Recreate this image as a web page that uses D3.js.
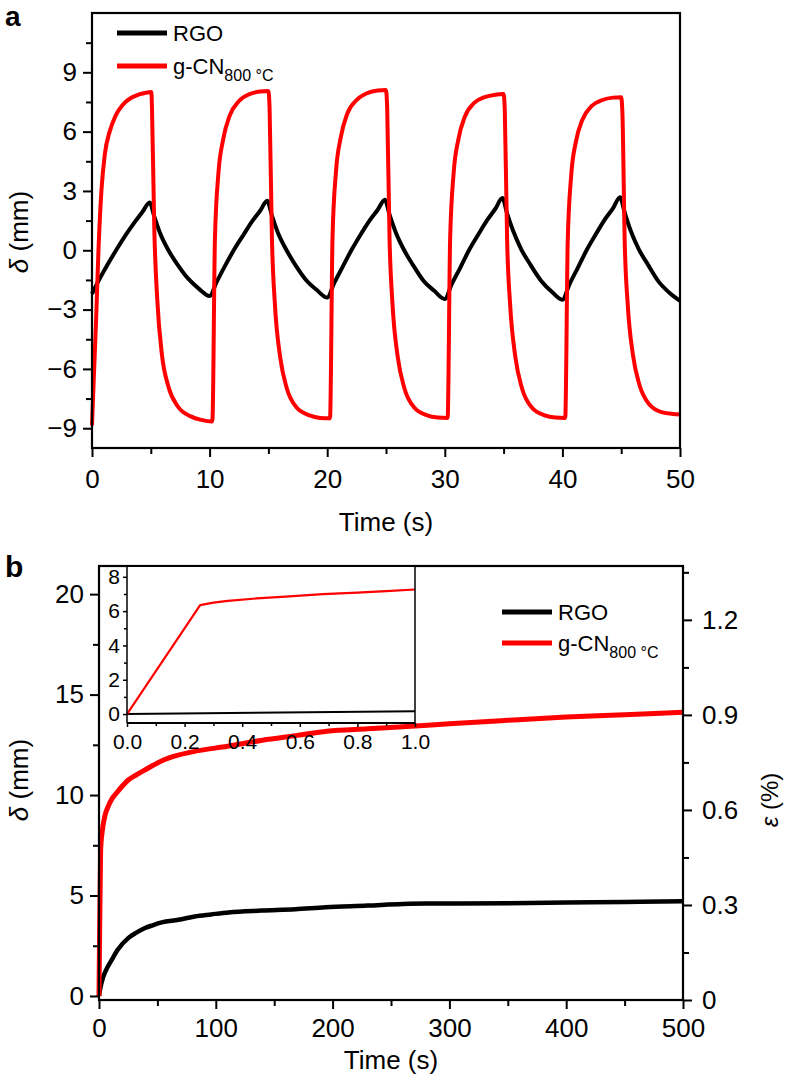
<!DOCTYPE html>
<html><head><meta charset="utf-8">
<script src="https://cdn.jsdelivr.net/npm/d3@7"></script>
<style>
body{margin:0;background:#fff;}
svg{display:block;font-family:"Liberation Sans",Arial,Helvetica,sans-serif;}
</style></head><body>
<svg id="c" width="786" height="1083"></svg>
<script>
// ---------- data ----------
// Panel a: cyclic deflection (Time s, δ mm)
const seriesNames = ["RGO", "g-CN"];
const rgoCyclic = [
 [0,-2.2],[0.6,-1.5],[1.3,-0.75],[2.1,0.05],[2.9,0.8],[3.6,1.4],[4.3,1.95],[4.9,2.42],
 [5.3,1.7],[5.8,0.85],[6.5,0.0],[7.3,-0.75],[8.2,-1.45],[9.1,-1.95],[10.0,-2.31],
 [10.6,-1.6],[11.3,-0.8],[12.1,0.05],[12.9,0.8],[13.6,1.45],[14.3,2.0],[14.9,2.5],
 [15.3,1.75],[15.8,0.9],[16.5,0.05],[17.3,-0.75],[18.2,-1.5],[19.1,-2.0],[20.0,-2.39],
 [20.6,-1.65],[21.3,-0.85],[22.1,0.05],[22.9,0.85],[23.6,1.5],[24.3,2.05],[24.9,2.56],
 [25.3,1.8],[25.8,0.95],[26.5,0.05],[27.3,-0.75],[28.2,-1.55],[29.1,-2.05],[30.0,-2.46],
 [30.6,-1.7],[31.3,-0.9],[32.1,0.05],[32.9,0.85],[33.6,1.52],[34.3,2.1],[34.9,2.64],
 [35.3,1.85],[35.8,1.0],[36.5,0.05],[37.3,-0.75],[38.2,-1.55],[39.1,-2.1],[40.0,-2.5],
 [40.6,-1.72],[41.3,-0.9],[42.1,0.05],[42.9,0.87],[43.6,1.55],[44.3,2.12],[44.9,2.68],
 [45.3,1.9],[45.8,1.0],[46.5,0.05],[47.3,-0.75],[48.2,-1.6],[49.1,-2.15],[50.0,-2.56]
];
const gcnCyclic = [
 [0,-8.86],[0.15,-6.5],[0.35,-3.5],[0.55,0.0],[0.8,3.0],[1.1,4.9],[1.5,6.0],[2.0,6.8],[2.6,7.35],[3.3,7.7],[4.0,7.88],[4.6,7.97],[5.05,8.0],
 [5.1,7.2],[5.3,1.0],[5.55,-2.5],[5.95,-5.3],[6.5,-6.9],[7.3,-7.9],[8.4,-8.4],[9.3,-8.58],[10.2,-8.66],
 [10.25,-8.5],[10.45,0.5],[10.75,3.9],[11.15,5.6],[11.7,6.8],[12.5,7.55],[13.4,7.9],[14.3,8.03],[15.0,8.06],
 [15.1,7.2],[15.3,0.6],[15.55,-2.7],[16.0,-5.4],[16.55,-6.95],[17.4,-7.95],[18.5,-8.35],[19.4,-8.48],[20.2,-8.5],
 [20.25,-8.4],[20.45,0.6],[20.75,4.0],[21.15,5.7],[21.7,6.9],[22.5,7.6],[23.4,7.95],[24.3,8.08],[25.0,8.1],
 [25.1,7.2],[25.3,0.6],[25.55,-2.7],[26.0,-5.4],[26.55,-6.95],[27.4,-7.95],[28.5,-8.35],[29.4,-8.46],[30.2,-8.48],
 [30.25,-8.4],[30.45,0.5],[30.75,3.9],[31.15,5.6],[31.7,6.75],[32.5,7.45],[33.4,7.75],[34.3,7.87],[35.0,7.9],
 [35.1,7.1],[35.3,0.5],[35.55,-2.7],[36.0,-5.4],[36.55,-6.95],[37.4,-7.95],[38.5,-8.35],[39.4,-8.46],[40.2,-8.48],
 [40.25,-8.4],[40.45,0.4],[40.75,3.8],[41.15,5.5],[41.7,6.6],[42.5,7.3],[43.4,7.6],[44.3,7.72],[45.0,7.74],
 [45.1,7.0],[45.3,0.4],[45.55,-2.7],[46.0,-5.3],[46.55,-6.8],[47.4,-7.8],[48.5,-8.2],[49.4,-8.28],[50.0,-8.3]
];
const aXTicks = [0,10,20,30,40,50];
const aXMinor = [5,15,25,35,45];
const aYTicks = [-9,-6,-3,0,3,6,9];
const aYMinor = [-7.5,-4.5,-1.5,1.5,4.5,7.5,10.5];

// Panel b: creep (Time s, δ mm)
const rgoCreep = [
 [0,0],[1,0.35],[3.7,0.96],[7,1.4],[10.9,1.8],[16,2.3],[25,2.88],[32,3.15],[39.4,3.38],[46,3.52],[53.7,3.66],
 [68,3.79],[82,3.96],[96,4.06],[111,4.16],[139,4.25],[168,4.32],[194,4.42],[230,4.5],[260,4.58],[280,4.6],
 [300,4.6],[350,4.62],[400,4.65],[450,4.68],[500,4.72]
];
const gcnCreep = [
 [0,0],[0.5,3.0],[1,5.5],[1.5,7.4],[3,8.3],[5,8.95],[8,9.45],[11,9.8],[15,10.1],[20,10.45],[25,10.75],
 [32,11.0],[40,11.27],[50,11.6],[60,11.85],[80,12.15],[110,12.43],[140,12.73],[170,12.97],[195,13.18],
 [230,13.3],[260,13.4],[300,13.55],[350,13.72],[400,13.88],[450,14.0],[500,14.12]
];
const bXTicks = [0,100,200,300,400,500];
const bXMinor = [50,150,250,350,450];
const bYTicks = [0,5,10,15,20];
const bYMinor = [2.5,7.5,12.5,17.5];
const bRTicks = [0,0.3,0.6,0.9,1.2];
const bRMinor = [0.15,0.45,0.75,1.05,1.35];

// Inset: first second of creep
const rgoInset = [[0,0],[1.0,0.17]];
const gcnInset = [[0,0],[0.254,6.35],[0.3,6.5],[0.35,6.6],[0.45,6.74],[0.55,6.85],[0.68,6.99],[0.8,7.08],[0.9,7.17],[1.0,7.26]];
const inXTicks = [0,0.2,0.4,0.6,0.8,1.0];
const inXMinor = [0.1,0.3,0.5,0.7,0.9];
const inYTicks = [0,2,4,6,8];
const inYMinor = [1,3,5,7];

// ---------- drawing ----------
const svg = d3.select("#c");
const RED = "#ff0000";
const FS = 26;
const fmtMinus = d => (d < 0 ? "\u2212" + Math.abs(d) : String(d));

function styleAxis(g, fs) {
  g.select(".domain").remove();
  g.selectAll(".tick line").attr("stroke", "#000").attr("stroke-width", 2);
  g.selectAll("text").attr("font-size", fs).attr("fill", "#000");
}

function legend(x, y, gap) {
  const lg = svg.append("g");
  [["#000", "RGO"], [RED, "g-CN"]].forEach((d, i) => {
    const yy = y + i * gap;
    lg.append("line").attr("x1", x).attr("x2", x + 50).attr("y1", yy).attr("y2", yy)
      .attr("stroke", d[0]).attr("stroke-width", 5);
    const t = lg.append("text").attr("x", x + 56).attr("y", yy + 8).attr("font-size", 22);
    t.append("tspan").text(d[1]);
    if (i === 1) t.append("tspan").attr("font-size", 16).attr("dy", 7).text("800 \u00B0C");
  });
}

// ===== Panel a =====
const ax = d3.scaleLinear().domain([0, 50]).range([92, 680]);
const ay = d3.scaleLinear().domain([-10, 12]).range([448, 13]);

svg.append("text").attr("x", 5).attr("y", 26).attr("font-size", 28).attr("font-weight", "bold").text("a");

const lineA = d3.line().x(d => ax(d[0])).y(d => ay(d[1])).curve(d3.curveMonotoneX);
svg.append("path").datum(rgoCyclic).attr("fill", "none").attr("stroke", "#000").attr("stroke-width", 4)
  .attr("stroke-linejoin", "round").attr("d", lineA);
svg.append("path").datum(gcnCyclic).attr("fill", "none").attr("stroke", RED).attr("stroke-width", 4)
  .attr("stroke-linejoin", "round").attr("d", lineA);

svg.append("rect").attr("x", 92).attr("y", 13).attr("width", 588).attr("height", 435)
  .attr("fill", "none").attr("stroke", "#000").attr("stroke-width", 2.2);

let g = svg.append("g").attr("transform", "translate(0,448)")
  .call(d3.axisBottom(ax).tickValues(aXTicks).tickSize(9).tickPadding(13).tickFormat(d3.format("d")));
styleAxis(g, FS);
g = svg.append("g").attr("transform", "translate(0,448)")
  .call(d3.axisBottom(ax).tickValues(aXMinor).tickSize(6).tickFormat(""));
styleAxis(g, FS);
g = svg.append("g").attr("transform", "translate(92,0)")
  .call(d3.axisLeft(ay).tickValues(aYTicks).tickSize(9).tickPadding(6).tickFormat(fmtMinus));
styleAxis(g, FS);
g = svg.append("g").attr("transform", "translate(92,0)")
  .call(d3.axisLeft(ay).tickValues(aYMinor).tickSize(6).tickFormat(""));
styleAxis(g, FS);

svg.append("text").attr("x", (ax(0) + ax(50)) / 2).attr("y", 531).attr("text-anchor", "middle")
  .attr("font-size", FS).text("Time (s)");
const aYL = svg.append("text").attr("transform", "translate(28,232) rotate(-90)")
  .attr("text-anchor", "middle").attr("font-size", FS);
aYL.append("tspan").attr("font-style", "italic").text("\u03B4");
aYL.append("tspan").text(" (mm)");

legend(117, 33, 33);

// ===== Panel b =====
const bx = d3.scaleLinear().domain([0, 500]).range([99, 683]);
const by = d3.scaleLinear().domain([-0.2, 21.4]).range([1000, 566]);
const br = d3.scaleLinear().domain([0, 1.37]).range([1000, 566]);

svg.append("text").attr("x", 5).attr("y", 577).attr("font-size", 30).attr("font-weight", "bold").text("b");

const lineB = d3.line().x(d => bx(d[0])).y(d => by(d[1])).curve(d3.curveMonotoneX);
svg.append("path").datum(rgoCreep).attr("fill", "none").attr("stroke", "#000").attr("stroke-width", 4.5)
  .attr("stroke-linejoin", "round").attr("d", lineB);
svg.append("path").datum(gcnCreep).attr("fill", "none").attr("stroke", RED).attr("stroke-width", 5)
  .attr("stroke-linejoin", "round").attr("d", lineB);

svg.append("rect").attr("x", 99).attr("y", 566).attr("width", 584).attr("height", 434)
  .attr("fill", "none").attr("stroke", "#000").attr("stroke-width", 2.2);

g = svg.append("g").attr("transform", "translate(0,1000)")
  .call(d3.axisBottom(bx).tickValues(bXTicks).tickSize(9).tickPadding(10).tickFormat(d3.format("d")));
styleAxis(g, FS);
g = svg.append("g").attr("transform", "translate(0,1000)")
  .call(d3.axisBottom(bx).tickValues(bXMinor).tickSize(6).tickFormat(""));
styleAxis(g, FS);
g = svg.append("g").attr("transform", "translate(99,0)")
  .call(d3.axisLeft(by).tickValues(bYTicks).tickSize(9).tickPadding(6).tickFormat(d3.format("d")));
styleAxis(g, FS);
g = svg.append("g").attr("transform", "translate(99,0)")
  .call(d3.axisLeft(by).tickValues(bYMinor).tickSize(6).tickFormat(""));
styleAxis(g, FS);
g = svg.append("g").attr("transform", "translate(683,0)")
  .call(d3.axisRight(br).tickValues(bRTicks).tickSize(9).tickPadding(10).tickFormat(d => d === 0 ? "0" : d3.format(".1f")(d)));
styleAxis(g, FS);
g = svg.append("g").attr("transform", "translate(683,0)")
  .call(d3.axisRight(br).tickValues(bRMinor).tickSize(6).tickFormat(""));
styleAxis(g, FS);

svg.append("text").attr("x", (bx(0) + bx(500)) / 2).attr("y", 1069).attr("text-anchor", "middle")
  .attr("font-size", FS).text("Time (s)");
const bYL = svg.append("text").attr("transform", "translate(28,780) rotate(-90)")
  .attr("text-anchor", "middle").attr("font-size", FS);
bYL.append("tspan").attr("font-style", "italic").text("\u03B4");
bYL.append("tspan").text(" (mm)");
const bRL = svg.append("text").attr("transform", "translate(778,800) rotate(-90)")
  .attr("text-anchor", "middle").attr("font-size", 24);
bRL.append("tspan").attr("font-style", "italic").text("\u03B5");
bRL.append("tspan").text(" (%)");

legend(502, 612, 31);

// ===== Inset =====
const ix = d3.scaleLinear().domain([0, 1]).range([127, 415]);
const iy = d3.scaleLinear().domain([-0.52, 8.63]).range([723, 566]);
svg.append("rect").attr("x", 127).attr("y", 567).attr("width", 288).attr("height", 156).attr("fill", "#fff");
const lineI = d3.line().x(d => ix(d[0])).y(d => iy(d[1]));
svg.append("path").datum(rgoInset).attr("fill", "none").attr("stroke", "#000").attr("stroke-width", 2).attr("d", lineI);
svg.append("path").datum(gcnInset).attr("fill", "none").attr("stroke", RED).attr("stroke-width", 2.2)
  .attr("stroke-linejoin", "round").attr("d", lineI);
svg.append("line").attr("x1", 127).attr("x2", 127).attr("y1", 566).attr("y2", 723).attr("stroke", "#000").attr("stroke-width", 1.5);
svg.append("line").attr("x1", 415).attr("x2", 415).attr("y1", 566).attr("y2", 723).attr("stroke", "#000").attr("stroke-width", 1.5);
svg.append("line").attr("x1", 127).attr("x2", 415).attr("y1", 723).attr("y2", 723).attr("stroke", "#000").attr("stroke-width", 2);

const IFS = 21;
g = svg.append("g").attr("transform", "translate(0,723)")
  .call(d3.axisBottom(ix).tickValues(inXTicks).tickSize(4).tickPadding(7).tickFormat(d3.format(".1f")));
styleAxis(g, IFS); g.selectAll(".tick line").attr("stroke-width", 1.5);
g = svg.append("g").attr("transform", "translate(0,723)")
  .call(d3.axisBottom(ix).tickValues(inXMinor).tickSize(3).tickFormat(""));
styleAxis(g, IFS); g.selectAll(".tick line").attr("stroke-width", 1.5);
g = svg.append("g").attr("transform", "translate(127,0)")
  .call(d3.axisLeft(iy).tickValues(inYTicks).tickSize(4).tickPadding(3).tickFormat(d3.format("d")));
styleAxis(g, IFS); g.selectAll(".tick line").attr("stroke-width", 1.5);
g = svg.append("g").attr("transform", "translate(127,0)")
  .call(d3.axisLeft(iy).tickValues(inYMinor).tickSize(3).tickFormat(""));
styleAxis(g, IFS); g.selectAll(".tick line").attr("stroke-width", 1.5);
</script>
</body></html>
